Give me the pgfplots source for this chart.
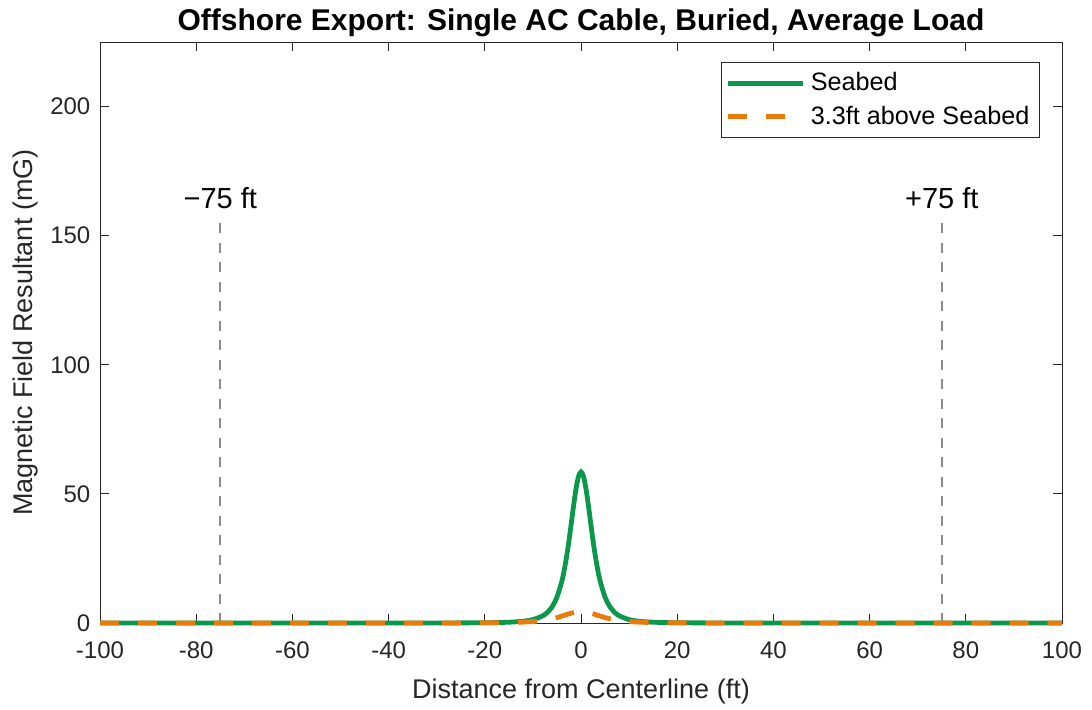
\documentclass[border=0pt]{standalone}
\usepackage{pgfplots}
\pgfplotsset{compat=1.18}
\usepackage{fontspec}
\setmainfont{Liberation Sans}

\definecolor{seabedgreen}{RGB}{12,152,76}
\definecolor{aboveorange}{RGB}{234,122,10}
\definecolor{axisgray}{RGB}{38,38,38}
\definecolor{markergray}{RGB}{140,140,140}

\begin{document}
\begin{tikzpicture}
\path[use as bounding box] (0,0) rectangle (546pt,354.5pt);
\begin{axis}[
  at={(50pt,43pt)}, anchor=south west,
  scale only axis,
  width=481pt, height=290.5pt,
  xmin=-100, xmax=100, ymin=0, ymax=225,
  xtick={-100,-80,...,100},
  ytick={0,50,...,200},
  tick align=inside,
  major tick length=4.5pt,
  axis line style={axisgray, line width=0.5pt},
  every tick/.style={axisgray, line width=0.5pt},
  tick label style={text=axisgray, font=\fontsize{12}{14}\selectfont},
  /pgf/number format/assume math mode=true,
  xticklabel style={anchor=base, yshift=-17.5pt},
  yticklabel style={xshift=-1.3pt},
  title={Offshore Export: Single AC Cable, Buried, Average Load},
  every axis title/.style={at={(0.5,1)}, anchor=base, yshift=6pt,
    font=\bfseries\fontsize{15}{17}\selectfont},
  xlabel={Distance from Centerline (ft)},
  every axis x label/.style={at={(axis description cs:0.5,0)}, anchor=base, yshift=-37.5pt,
    text=axisgray, font=\fontsize{13.5}{16}\selectfont},
  ylabel={Magnetic Field Resultant (mG)},
  every axis y label/.style={at={(axis description cs:-0.0769,0.5)}, anchor=center, rotate=90,
    text=axisgray, font=\fontsize{13.5}{16}\selectfont},
  legend style={at={(axis description cs:0.977,0.9656)}, anchor=north east,
    draw=axisgray, line width=0.5pt, fill=white,
    font=\fontsize{12.6}{15}\selectfont,
    inner xsep=2.5pt, inner ysep=3pt, row sep=2pt,
    nodes={inner xsep=2.5pt}},
  legend cell align=left,
  legend image code/.code={\draw[#1] (0pt,0pt) -- (37.5pt,0pt);},
  clip=false,
]
% distance limits of the corridor
\addplot[markergray, line width=0.8pt, dash pattern=on 5pt off 4.75pt, forget plot]
  coordinates {(-75,0) (-75,155.5)};
\addplot[markergray, line width=0.8pt, dash pattern=on 5pt off 4.75pt, forget plot]
  coordinates {(75,0) (75,155.5)};

% field at the seabed
\addplot[seabedgreen, line width=2.4pt, smooth] coordinates {
  (-100,0) (-60,0.001) (-40,0.007) (-30,0.02) (-20,0.10) (-15,0.31) (-12,0.70)
  (-10,1.32) (-8,2.73) (-7,4.10) (-6,6.33) (-5,10.01) (-4,16.09) (-3.5,20.37)
  (-3,25.65) (-2.5,31.89) (-2,38.87) (-1.5,46.01) (-1,52.39) (-0.5,56.88) (0,58.5)
  (0.5,56.88) (1,52.39) (1.5,46.01) (2,38.87) (2.5,31.89) (3,25.65) (3.5,20.37)
  (4,16.09) (5,10.01) (6,6.33) (7,4.10) (8,2.73) (10,1.32) (12,0.70) (15,0.31)
  (20,0.10) (30,0.02) (40,0.007) (60,0.001) (100,0)
};
\addlegendentry{Seabed}

% field 3.3 ft above the seabed
\addplot[aboveorange, line width=2.4pt, dash pattern=on 9.5pt off 9.5pt, smooth] coordinates {
  (-100,0) (-60,0.001) (-40,0.003) (-30,0.01) (-20,0.07) (-15,0.18) (-12,0.35)
  (-10,0.57) (-8,0.96) (-6,1.64) (-5,2.11) (-4,2.67) (-3,3.27) (-2,3.84) (-1,4.25)
  (0,4.4) (1,4.25) (2,3.84) (3,3.27) (4,2.67) (5,2.11) (6,1.64) (8,0.96) (10,0.57)
  (12,0.35) (15,0.18) (20,0.07) (30,0.01) (40,0.003) (60,0.001) (100,0)
};
\addlegendentry{3.3ft above Seabed}

\node[anchor=base, font=\fontsize{14.5}{17}\selectfont, inner sep=0pt]
  at (axis cs:-75,160.5) {−75 ft};
\node[anchor=base, font=\fontsize{14.5}{17}\selectfont, inner sep=0pt]
  at (axis cs:75,160.5) {+75 ft};
\end{axis}
\end{tikzpicture}
\end{document}
